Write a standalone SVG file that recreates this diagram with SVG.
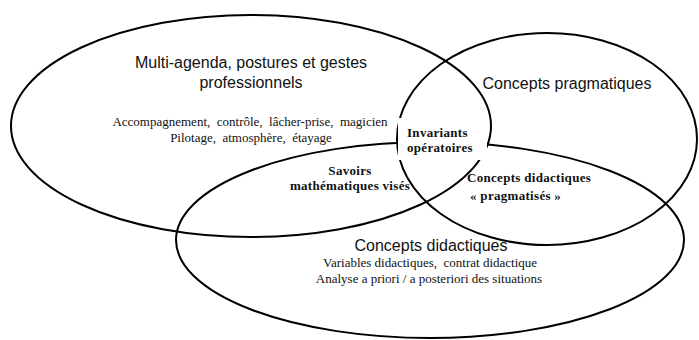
<svg xmlns="http://www.w3.org/2000/svg" width="699" height="340" viewBox="0 0 699 340">
<style>
.ell{fill:none;stroke:#000;stroke-width:2}
.sans{font-family:"Liberation Sans",Arial,sans-serif;font-size:16px;fill:#111}
.serif{font-family:"Liberation Serif","Times New Roman",serif;font-size:13px;fill:#111}
.bold{font-family:"Liberation Serif","Times New Roman",serif;font-size:13px;font-weight:bold;fill:#111;letter-spacing:0.3px}
</style>
<rect width="699" height="340" fill="#fff"/>
<g id="multi-agenda">
<ellipse class="ell" cx="251" cy="126" rx="240" ry="111"/>
</g>
<g id="concepts-pragmatiques">
<ellipse class="ell" cx="547" cy="139" rx="150" ry="106"/>
</g>
<g id="concepts-didactiques">
<ellipse class="ell" cx="430" cy="240" rx="254" ry="98"/>
</g>
<g id="invariants">
<rect x="398" y="118" width="89" height="42" fill="#fff"/>
<text class="bold" x="407" y="137">Invariants</text>
<text class="bold" x="407" y="152">opératoires</text>
</g>
<g id="labels-multi">
<text class="sans" x="251" y="68" text-anchor="middle">Multi-agenda, postures et gestes</text>
<text class="sans" x="251" y="88" text-anchor="middle">professionnels</text>
<text class="serif" x="250" y="126" text-anchor="middle" xml:space="preserve">Accompagnement,  contrôle,  lâcher-prise,  magicien</text>
<text class="serif" x="251" y="142" text-anchor="middle" xml:space="preserve">Pilotage,  atmosphère,  étayage</text>
</g>
<g id="labels-pragmatiques">
<text class="sans" x="567" y="89" text-anchor="middle">Concepts pragmatiques</text>
</g>
<g id="savoirs">
<text class="bold" x="350" y="175" text-anchor="middle">Savoirs</text>
<text class="bold" x="350" y="190" text-anchor="middle">mathématiques visés</text>
</g>
<g id="concepts-pragmatises">
<text class="bold" x="467" y="182">Concepts didactiques</text>
<text class="bold" x="470" y="200">« pragmatisés »</text>
</g>
<g id="labels-didactiques">
<text class="sans" x="431" y="251" text-anchor="middle">Concepts didactiques</text>
<text class="serif" x="430" y="267" text-anchor="middle" xml:space="preserve">Variables didactiques,  contrat didactique</text>
<text class="serif" x="429" y="283" text-anchor="middle">Analyse a priori / a posteriori des situations</text>
</g>
<g id="connectors"/>
</svg>
